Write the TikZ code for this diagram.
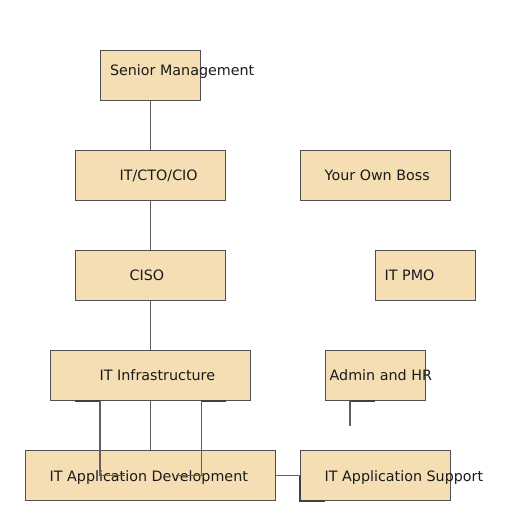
\documentclass[tikz,border=0pt]{standalone}
\usepackage{fontspec}
\setmainfont{DejaVu Sans}
\usetikzlibrary{calc}
\definecolor{boxfill}{HTML}{F5DEB3}
\definecolor{boxline}{HTML}{505050}
\definecolor{conn}{HTML}{606060}
\definecolor{txt}{HTML}{1A1A1A}
\begin{document}
\begin{tikzpicture}[x=1pt,y=-1pt,
  box/.style={draw=boxline,fill=boxfill,line width=1.1pt,minimum width=#1,minimum height=50pt,inner sep=0pt,anchor=north west},
  lbl/.style={anchor=base west,inner sep=0pt,text=txt,font=\fontsize{14.3}{16}\selectfont},
  wire/.style={draw=conn,line width=1.1pt},
  dark/.style={draw=black!75,line width=1.6pt}]
\useasboundingbox (0,0) rectangle (512,512);
\node[box=100pt] (sm) at (100,50) {};
\node[box=150pt] (cto) at (75,150) {};
\node[box=150pt] (ciso) at (75,250) {};
\node[box=200pt] (infra) at (50,350) {};
\node[box=250pt] (dev) at (25,450) {};
\node[box=150pt] (boss) at (300,150) {};
\node[box=100pt] (pmo) at (375,250) {};
\node[box=100pt] (hr) at (325,350) {};
\node[box=150pt] (sup) at (300,450) {};
\node[lbl] (tsm) at (109.8,75) {Senior Management};
\node[lbl] (tcto) at (119.5,180.5) {IT/CTO/CIO};
\node[lbl] (tciso) at (129.5,280.5) {CISO};
\node[lbl] (tinfra) at (99.5,380.5) {IT Infrastructure};
\node[lbl] (tdev) at (49.5,481) {IT Application Development};
\node[lbl] (tboss) at (324.5,180.5) {Your Own Boss};
\node[lbl] (tpmo) at (384.5,280.5) {IT PMO};
\node[lbl] (thr) at (329.5,380.5) {Admin and HR};
\node[lbl] (tsup) at (324.5,481) {IT Application Support};
\draw[wire] (sm.south) -- (cto.north);
\draw[wire] (cto.south) -- (ciso.north);
\draw[wire] (ciso.south) -- (infra.north);
\draw[wire] (infra.south) -- (dev.north);
\coordinate (l1) at ($(infra.south west)+(25,0)$);
\coordinate (l2) at ($(infra.south west)+(50,0)$);
\coordinate (l3) at ($(dev.west)+(75,0)$);
\coordinate (l4) at ($(dev.west)+(100,0)$);
\draw[dark] (l1) -- (l2);
\draw[wire] (l2) -- (l2 |- l3) -- (l4);
\coordinate (r1) at ($(infra.south east)+(-25,0)$);
\coordinate (r2) at ($(infra.south east)+(-50,0)$);
\coordinate (r3) at ($(dev.east)+(-75,0)$);
\coordinate (r4) at ($(dev.east)+(-100,0)$);
\draw[dark] (r1) -- (r2);
\draw[wire] (r2) -- (r2 |- r3) -- (r4);
\draw[wire] (dev.east) -- (sup.west);
\coordinate (s1) at ($(sup.south west)+(25,0)$);
\draw[dark] (sup.west) -- (sup.south west) -- (s1);
\coordinate (h1) at ($(hr.south west)+(25,0)$);
\coordinate (h2) at ($(hr.south west)+(50,0)$);
\coordinate (h3) at ($(hr.south west)+(25,25)$);
\draw[dark] (h1) -- (h2);
\draw[wire] (h1) -- (h3);
\end{tikzpicture}
\end{document}
